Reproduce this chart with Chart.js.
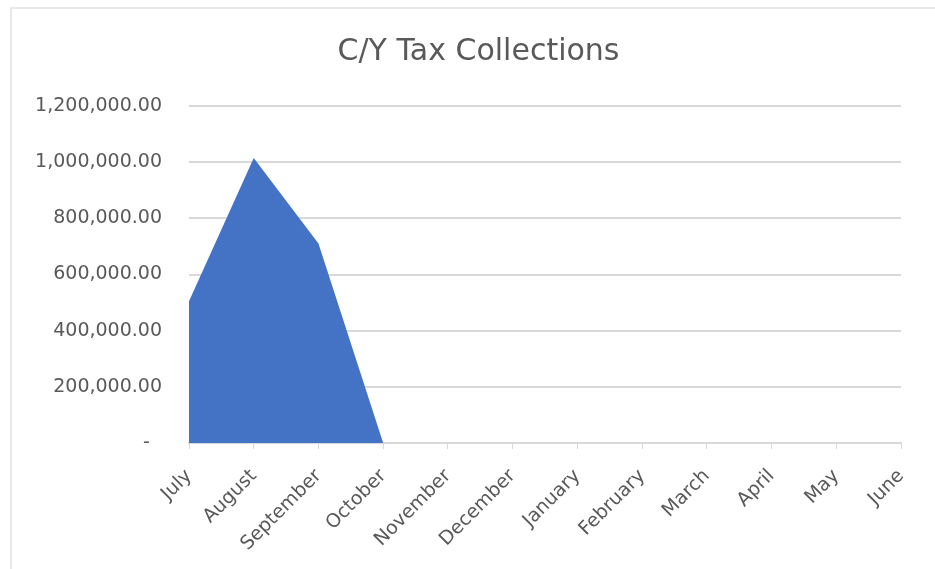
<!DOCTYPE html>
<html>
<head>
<meta charset="utf-8">
<script src="https://cdn.jsdelivr.net/npm/chart.js@4.4.0/dist/chart.umd.min.js"></script>
<style>
  html, body { margin: 0; padding: 0; background: #ffffff; }
  #wrap { width: 935px; height: 569px; position: relative; }
</style>
</head>
<body>
<div id="wrap"><canvas id="chart" width="935" height="569"></canvas></div>
<script>
// Categories (fiscal year months)
const months = ['July', 'August', 'September', 'October', 'November', 'December',
  'January', 'February', 'March', 'April', 'May', 'June'];

// Collections per month
const collections = [505000, 1015000, 710000, 0, 0, 0, 0, 0, 0, 0, 0, 0];

// Y axis ticks
const yTicks = [0, 200000, 400000, 600000, 800000, 1000000, 1200000];

const TEXT = '#595959';
const GRID = '#d9d9d9';
const FONT = 'DejaVu Sans';

// Faint frame on the left and top, like the original chart border
const frame = {
  id: 'frame',
  beforeDraw(chart) {
    const { ctx } = chart;
    ctx.save();
    ctx.fillStyle = '#ffffff';
    ctx.fillRect(0, 0, chart.width, chart.height);
    ctx.strokeStyle = '#e8e8e8';
    ctx.lineWidth = 2;
    ctx.beginPath();
    ctx.moveTo(11, chart.height);
    ctx.lineTo(11, 8);
    ctx.lineTo(chart.width, 8);
    ctx.stroke();
    ctx.restore();
  }
};

// Excel centres the title a bit right of the canvas middle
const shiftTitle = {
  id: 'shiftTitle',
  afterLayout(chart) {
    if (chart.titleBlock) chart.titleBlock.left += 56;
  }
};

const fmt = v => v === 0 ? '-  ' :
  v.toLocaleString('en-US', { minimumFractionDigits: 2, maximumFractionDigits: 2 });

new Chart(document.getElementById('chart'), {
  type: 'line',
  data: {
    labels: months,
    datasets: [{
      data: collections,
      fill: 'origin',
      backgroundColor: '#4472C4',
      borderWidth: 0,
      pointRadius: 0,
      tension: 0
    }]
  },
  options: {
    responsive: false,
    animation: false,
    layout: { padding: { left: 0, right: 34, top: 0, bottom: 0 } },
    plugins: {
      legend: { display: false },
      tooltip: { enabled: false },
      title: {
        display: true,
        text: 'C/Y Tax Collections',
        color: TEXT,
        font: { family: FONT, size: 30, weight: 'normal', lineHeight: 1.2 },
        padding: { top: 34, bottom: 36 }
      }
    },
    scales: {
      x: {
        offset: false,
        grid: { display: true, drawOnChartArea: false, drawTicks: true, tickLength: 6, color: GRID },
        border: { display: true, color: GRID, width: 2 },
        ticks: {
          color: TEXT,
          font: { family: FONT, size: 19 },
          minRotation: 45,
          maxRotation: 45,
          autoSkip: false,
          padding: 16
        },
        afterFit(scale) { scale.height = 126; }
      },
      y: {
        min: 0,
        max: 1200000,
        afterBuildTicks(scale) { scale.ticks = yTicks.map(v => ({ value: v })); },
        grid: {
          drawTicks: false,
          color: ctx => ctx.tick && ctx.tick.value === 0 ? 'rgba(0,0,0,0)' : GRID,
          lineWidth: 2
        },
        border: { display: false },
        ticks: {
          color: TEXT,
          font: { family: FONT, size: 19 },
          padding: 27,
          callback: v => fmt(v)
        },
        afterFit(scale) { scale.width = 189; }
      }
    }
  },
  plugins: [frame, shiftTitle]
});
</script>
</body>
</html>
